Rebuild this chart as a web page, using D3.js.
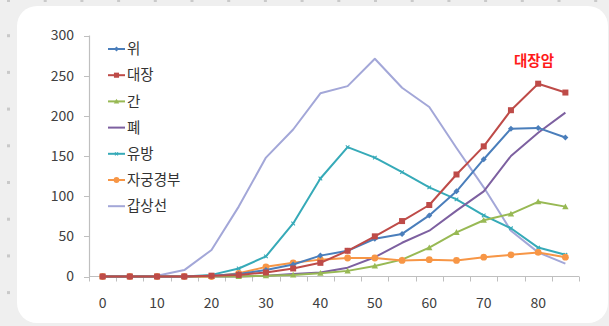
<!DOCTYPE html>
<html>
<head>
<meta charset="utf-8">
<script src="https://cdn.jsdelivr.net/npm/d3@7"></script>
<style>
  html, body { margin: 0; padding: 0; background: #efefef; }
  svg { display: block; }
  text { font-family: "Noto Sans CJK KR", "Noto Sans", sans-serif; }
</style>
</head>
<body>
<svg id="chart" width="609" height="326"></svg>
<script>
// Age groups (years) on the category axis
const ages = [0, 5, 10, 15, 20, 25, 30, 35, 40, 45, 50, 55, 60, 65, 70, 75, 80, 85];
const xTickLabels = [0, 10, 20, 30, 40, 50, 60, 70, 80];
const yTicks = [0, 50, 100, 150, 200, 250, 300];

// Incidence per 100,000 by age, one array per cancer site
const stomach = [0, 0, 0, 0, 1, 3, 8, 15, 26, 32, 47, 53, 76, 106, 146, 184, 185, 173];
const colon   = [0, 0, 0, 0, 1, 2, 5, 10, 17, 32, 50, 69, 89, 127, 162, 207, 240, 229];
const liver   = [0, 0, 0, 0, 0, 0, 1, 2, 4, 7, 13, 21, 36, 55, 70, 78, 93, 87];
const lung    = [0, 0, 0, 0, 0, 0, 1, 3, 5, 11, 24, 42, 57, 82, 106, 150, 179, 204];
const breast  = [0, 0, 0, 0, 2, 10, 25, 66, 122, 161, 148, 130, 111, 96, 76, 60, 36, 27];
const cervix  = [0, 0, 0, 0, 0, 4, 12, 17, 21, 23, 23, 20, 21, 20, 24, 27, 30, 24];
const thyroid = [0, 0, 1, 8, 33, 87, 148, 183, 228, 237, 271, 235, 211, 160, 111, 57, 30, 16];

const seriesNames = ["위", "대장", "간", "폐", "유방", "자궁경부", "갑상선"];
const seriesValues = [stomach, colon, liver, lung, breast, cervix, thyroid];
const seriesColors = ["#4a7ebb", "#be4b48", "#98b954", "#7d60a0", "#36aab8", "#f79646", "#a3a7d8"];
const seriesMarkers = ["diamond", "square", "triangle", "none", "cross", "circle", "none"];
const calloutText = "대장암";

const svg = d3.select("#chart");

// Page background: light grey with a sparse dot grid
const bg = svg.append("g");
for (let i = 0; i < 17; i++) {
  bg.append("rect").attr("x", 7 + 36.7 * i).attr("y", -1).attr("width", 3).attr("height", 3).attr("fill", "#c9c9c9");
}
for (let j = 1; j < 9; j++) {
  bg.append("rect").attr("x", 7).attr("y", -2.5 + 36.7 * j).attr("width", 3).attr("height", 3).attr("fill", "#c9c9c9");
}

// White card
svg.append("rect")
  .attr("x", 17).attr("y", 6).attr("width", 591).attr("height", 317)
  .attr("rx", 20).attr("ry", 20)
  .attr("fill", "#ffffff");

const x = d3.scaleBand().domain(ages).range([89, 579]).paddingInner(0).paddingOuter(0);
const y = d3.scaleLinear().domain([0, 300]).range([276.5, 35.5]);
const cx = d => x(d) + x.bandwidth() / 2;

const axisColor = "#bfbfbf";
const labelColor = "#404040";

// Y axis
const yAxis = svg.append("g");
yAxis.append("line")
  .attr("x1", 89.5).attr("x2", 89.5).attr("y1", y(300)).attr("y2", y(0))
  .attr("stroke", axisColor).attr("stroke-width", 1.2);
yAxis.selectAll("line.tick").data(yTicks).join("line")
  .attr("class", "tick")
  .attr("x1", 84).attr("x2", 89.5)
  .attr("y1", d => Math.round(y(d)) + 0.5).attr("y2", d => Math.round(y(d)) + 0.5)
  .attr("stroke", axisColor);
yAxis.selectAll("text").data(yTicks).join("text")
  .attr("x", 74).attr("y", d => y(d))
  .attr("dy", "0.35em")
  .attr("text-anchor", "end")
  .attr("font-size", 14)
  .attr("fill", labelColor)
  .text(d => d);

// X axis: ticks sit on category boundaries, labels at every other category
const xAxis = svg.append("g");
xAxis.append("line")
  .attr("x1", 89).attr("x2", 579).attr("y1", y(0)).attr("y2", y(0))
  .attr("stroke", axisColor).attr("stroke-width", 1.2);
const boundaries = ages.map(a => x(a)).concat([x(ages[ages.length - 1]) + x.bandwidth()]);
xAxis.selectAll("line.tick").data(boundaries).join("line")
  .attr("class", "tick")
  .attr("x1", d => Math.round(d) + 0.5).attr("x2", d => Math.round(d) + 0.5)
  .attr("y1", y(0)).attr("y2", y(0) + 5)
  .attr("stroke", axisColor);
xAxis.selectAll("text").data(xTickLabels).join("text")
  .attr("x", d => cx(d)).attr("y", 303)
  .attr("dy", "0.35em")
  .attr("text-anchor", "middle")
  .attr("font-size", 14)
  .attr("fill", labelColor)
  .text(d => d);

// Marker drawing helper
function drawMarker(g, kind, px, py, color, scale) {
  const s = scale || 1;
  if (kind === "diamond") {
    const r = 3 * s;
    g.append("path").attr("d", `M${px},${py - r}L${px + r},${py}L${px},${py + r}L${px - r},${py}Z`).attr("fill", color);
  } else if (kind === "square") {
    const r = 3 * s;
    g.append("rect").attr("x", px - r).attr("y", py - r).attr("width", 2 * r).attr("height", 2 * r).attr("fill", color);
  } else if (kind === "triangle") {
    const r = 3.2 * s;
    g.append("path").attr("d", `M${px},${py - r}L${px + r},${py + r * 0.8}L${px - r},${py + r * 0.8}Z`).attr("fill", color);
  } else if (kind === "circle") {
    g.append("circle").attr("cx", px).attr("cy", py).attr("r", 3.4 * s).attr("fill", color);
  } else if (kind === "cross") {
    const r = 1.8 * s;
    g.append("path").attr("d", `M${px - r},${py - r}L${px + r},${py + r}M${px - r},${py + r}L${px + r},${py - r}`)
      .attr("stroke", color).attr("stroke-width", 1.1);
  }
}

// Lines, drawn so that the thyroid series sits underneath the others
const line = d3.line().x((d, i) => cx(ages[i])).y(d => y(d));
const plot = svg.append("g");
const drawOrder = [6, 4, 3, 2, 5, 0, 1];
drawOrder.forEach(k => {
  const g = plot.append("g");
  g.append("path")
    .datum(seriesValues[k])
    .attr("d", line)
    .attr("fill", "none")
    .attr("stroke", seriesColors[k])
    .attr("stroke-width", 2)
    .attr("stroke-linejoin", "round");
  seriesValues[k].forEach((v, i) => drawMarker(g, seriesMarkers[k], cx(ages[i]), y(v), seriesColors[k]));
});

// Legend
const legend = svg.append("g");
seriesNames.forEach((name, k) => {
  const ly = 49 + k * 26.2;
  const g = legend.append("g");
  g.append("line").attr("x1", 108).attr("x2", 125).attr("y1", ly).attr("y2", ly)
    .attr("stroke", seriesColors[k]).attr("stroke-width", 2);
  drawMarker(g, seriesMarkers[k], 116.5, ly, seriesColors[k], 0.85);
  g.append("text").attr("x", 127).attr("y", ly).attr("dy", "0.36em")
    .attr("font-size", 14.5).attr("fill", "#333333").text(name);
});

// Callout for the colorectal series
svg.append("text")
  .attr("x", 534).attr("y", 61).attr("dy", "0.35em")
  .attr("text-anchor", "middle")
  .attr("font-size", 14.5).attr("font-weight", "bold")
  .attr("fill", "#ff1a1a")
  .text(calloutText);
</script>
</body>
</html>
